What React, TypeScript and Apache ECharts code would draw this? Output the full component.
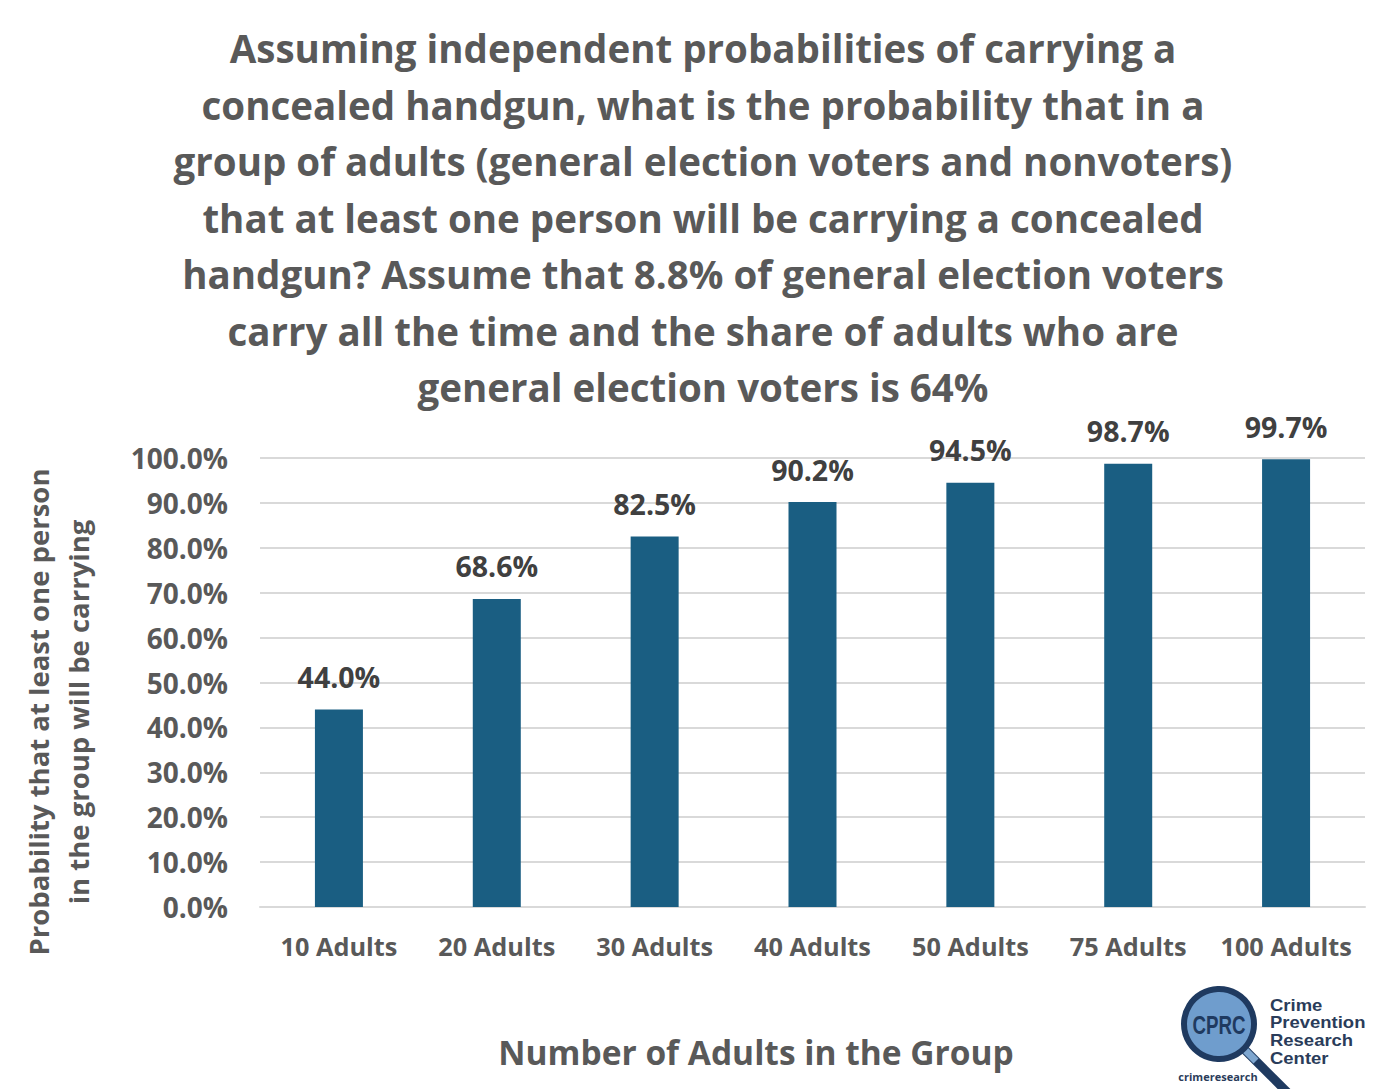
import React, { useEffect, useRef } from "react";
import * as echarts from "echarts";

const categories = ["10 Adults", "20 Adults", "30 Adults", "40 Adults", "50 Adults", "75 Adults", "100 Adults"];
const probabilities = [44.0, 68.6, 82.5, 90.2, 94.5, 98.7, 99.7];
const yTicks = { min: 0, max: 100, interval: 10 };
const titleLines = [
  "Assuming independent probabilities of carrying a",
  "concealed handgun, what is the probability that in a",
  "group of adults (general election voters and nonvoters)",
  "that at least one person will be carrying a concealed",
  "handgun? Assume that 8.8% of general election voters",
  "carry all the time and the share of adults who are",
  "general election voters is 64%",
];
const yAxisNameLines = ["Probability that at least one person", "in the group will be carrying"];
const xAxisName = "Number of Adults in the Group";
const logoLines = ["Crime", "Prevention", "Research", "Center"];

const FONT = "'Open Sans', Lato, sans-serif";
const GRAY = "#595959";
const NAVY = "#1f3a60";

export default function App() {
  const ref = useRef<HTMLDivElement>(null);
  useEffect(() => {
    if (!ref.current) return;
    const chart = echarts.init(ref.current, undefined, { renderer: "svg" });
    chart.setOption({
      animation: false,
      backgroundColor: "#ffffff",
      title: {
        text: titleLines.join("\n"),
        left: 698,
        textAlign: "center",
        top: 15,
        textStyle: {
          fontFamily: FONT,
          fontWeight: "bold",
          fontSize: 38.5,
          lineHeight: 56.5,
          color: GRAY,
        },
      },
      grid: { left: 260, right: 35, top: 458, bottom: 182 },
      xAxis: {
        type: "category",
        data: categories,
        axisLine: { show: true, lineStyle: { color: "#d9d9d9", width: 2 } },
        axisTick: { show: false },
        axisLabel: {
          interval: 0,
          margin: 26,
          fontFamily: FONT,
          fontWeight: "bold",
          fontSize: 25.3,
          color: GRAY,
        },
      },
      yAxis: {
        type: "value",
        min: yTicks.min,
        max: yTicks.max,
        interval: yTicks.interval,
        axisLine: { show: false },
        axisTick: { show: false },
        splitLine: { lineStyle: { color: "#d9d9d9", width: 2 } },
        axisLabel: {
          margin: 32,
          fontFamily: FONT,
          fontWeight: "bold",
          fontSize: 28,
          color: GRAY,
          formatter: (v: number) => v.toFixed(1) + "%",
        },
      },
      series: [
        {
          type: "bar",
          data: probabilities,
          barWidth: 48,
          itemStyle: { color: "#1a5e82" },
          label: {
            show: true,
            position: "top",
            distance: 18,
            fontFamily: FONT,
            fontWeight: "bold",
            fontSize: 28.5,
            color: "#404040",
            formatter: (p: any) => Number(p.value).toFixed(1) + "%",
          },
        },
      ],
      graphic: [
        {
          type: "text",
          x: 38,
          y: 712,
          rotation: Math.PI / 2,
          style: {
            text: yAxisNameLines[0],
            fontFamily: FONT,
            fontWeight: "bold",
            fontSize: 27.5,
            fill: GRAY,
            align: "center",
            verticalAlign: "middle",
          },
        },
        {
          type: "text",
          x: 78,
          y: 712,
          rotation: Math.PI / 2,
          style: {
            text: yAxisNameLines[1],
            fontFamily: FONT,
            fontWeight: "bold",
            fontSize: 27.5,
            fill: GRAY,
            align: "center",
            verticalAlign: "middle",
          },
        },
        {
          type: "text",
          x: 756,
          y: 1052,
          style: {
            text: xAxisName,
            fontFamily: FONT,
            fontWeight: "bold",
            fontSize: 33.5,
            fill: GRAY,
            align: "center",
            verticalAlign: "middle",
          },
        },
        // logo
        {
          type: "line",
          shape: { x1: 1245, y1: 1050, x2: 1290, y2: 1095 },
          style: { stroke: NAVY, lineWidth: 9 },
        },
        {
          type: "line",
          shape: { x1: 1244, y1: 1049, x2: 1256, y2: 1061 },
          style: { stroke: "#7ea6cf", lineWidth: 7 },
        },
        {
          type: "circle",
          shape: { cx: 1219, cy: 1024, r: 35 },
          style: { fill: "#6f9dcd", stroke: NAVY, lineWidth: 6 },
        },
        {
          type: "text",
          x: 1219,
          y: 1025,
          scaleX: 0.72,
          style: {
            text: "CPRC",
            fontFamily: "'Liberation Sans', Arial, sans-serif",
            fontWeight: "bold",
            fontSize: 26,
            fill: NAVY,
            align: "center",
            verticalAlign: "middle",
          },
        },
        ...logoLines.map((t, i) => ({
          type: "text",
          x: 1270,
          y: 1005 + i * 17.7,
          scaleX: 1.12,
          style: {
            text: t,
            fontFamily: "'Liberation Sans', Arial, sans-serif",
            fontWeight: "bold",
            fontSize: 16.5,
            fill: "#2a3c5a",
            align: "left",
            verticalAlign: "middle",
          },
        })),
        {
          type: "text",
          x: 1218,
          y: 1076,
          style: {
            text: "crimeresearch",
            fontFamily: FONT,
            fontWeight: "bold",
            fontSize: 11,
            fill: "#2a3c5a",
            align: "center",
            verticalAlign: "middle",
          },
        },
      ],
    });
    return () => chart.dispose();
  }, []);
  return (
    <div
      ref={ref}
      style={{ position: "fixed", left: 0, top: 0, width: 1400, height: 1089 }}
    />
  );
}
